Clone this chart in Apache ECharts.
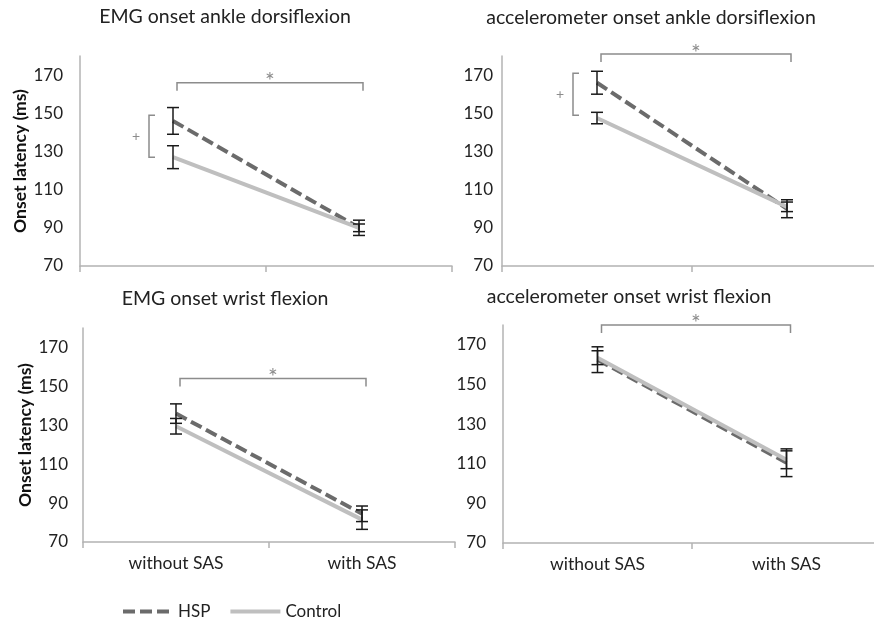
<!DOCTYPE html>
<html><head><meta charset="utf-8">
<script src="https://cdn.jsdelivr.net/npm/echarts@6/dist/echarts.min.js"></script>
<style>html,body{margin:0;padding:0;background:#fff}#c{width:874px;height:621px}</style>
</head><body><div id="c"></div>
<script>
// ---- data ----
const categories = ['without SAS', 'with SAS'];
const panelTitles = ['EMG onset ankle dorsiflexion', 'accelerometer onset ankle dorsiflexion', 'EMG onset wrist flexion', 'accelerometer onset wrist flexion'];
const hspMean  = [[146, 90], [166, 100], [136, 84.5], [162.5, 110.5]];
const hspErr   = [[7, 4], [6, 4.7], [5, 4], [6.5, 7]];
const ctrlMean = [[127, 90], [147.5, 101], [129.5, 81.5], [163.5, 112]];
const ctrlErr  = [[6, 2], [3, 2.5], [4, 5], [3.5, 4.5]];
const yTicks = [70, 90, 110, 130, 150, 170];
const sigBracketY = [166, 181, 154, 180];          // "*" bracket level (between conditions)
const groupBracket = [[127, 149], [149, 171], null, null]; // "+" bracket (between groups)
const yAxisName = 'Onset latency (ms)';
const seriesNames = ['HSP', 'Control'];

// ---- layout ----
const grids = [
  {left: 80, top: 56, width: 372, height: 210},
  {left: 502, top: 56, width: 380, height: 210},
  {left: 83, top: 328, width: 372, height: 214},
  {left: 503, top: 325, width: 378, height: 218}
];
const titlePos = [[225, 7], [651, 8], [225, 289], [629, 287]];
const yLabelMargin = [17, 9, 15, 17];
const axisColor = '#b3b3b3';
const textColor = '#222';
const FONT = 'Lato, "Open Sans", sans-serif';

function renderErr(params, api) {
  const lo = api.coord([api.value(0), api.value(1)]);
  const hi = api.coord([api.value(0), api.value(2)]);
  const w = 6;
  const st = {stroke: '#1a1a1a', lineWidth: 1.5};
  return {type: 'group', children: [
    {type: 'line', shape: {x1: lo[0], y1: lo[1], x2: hi[0], y2: hi[1]}, style: st},
    {type: 'line', shape: {x1: lo[0] - w, y1: lo[1], x2: lo[0] + w, y2: lo[1]}, style: st},
    {type: 'line', shape: {x1: hi[0] - w, y1: hi[1], x2: hi[0] + w, y2: hi[1]}, style: st}
  ]};
}
function renderSig(params, api) {
  const a = api.coord([api.value(0), api.value(2)]);
  const b = api.coord([api.value(1), api.value(2)]);
  const x1 = a[0] + 4, x2 = b[0] + 4, y = a[1], d = 8;
  return {type: 'group', children: [
    {type: 'polyline', shape: {points: [[x1, y + d], [x1, y], [x2, y], [x2, y + d]]}, style: {stroke: '#8c8c8c', lineWidth: 1.5, fill: null}},
    {type: 'text', x: (x1 + x2) / 2, y: y - 1, style: {text: '*', fill: '#8c8c8c', fontSize: 23, fontFamily: FONT, align: 'center', verticalAlign: 'middle'}}
  ]};
}
function renderGroup(params, api) {
  const lo = api.coord([api.value(0), api.value(1)]);
  const hi = api.coord([api.value(0), api.value(2)]);
  const x = lo[0] - 24, arm = 6;
  return {type: 'group', children: [
    {type: 'polyline', shape: {points: [[x + arm, hi[1]], [x, hi[1]], [x, lo[1]], [x + arm, lo[1]]]}, style: {stroke: '#8c8c8c', lineWidth: 1.5, fill: null}},
    {type: 'text', x: x - 13, y: (lo[1] + hi[1]) / 2, style: {text: '+', fill: '#8c8c8c', fontSize: 14, fontFamily: FONT, align: 'center', verticalAlign: 'middle'}}
  ]};
}

const option = {
  animation: false,
  backgroundColor: '#fff',
  textStyle: {fontFamily: FONT},
  title: panelTitles.map((t, i) => ({
    text: t, left: titlePos[i][0], top: titlePos[i][1], textAlign: 'center', padding: 0,
    textStyle: {fontSize: 19.5, fontWeight: 'normal', color: textColor, fontFamily: FONT}
  })),
  legend: {
    data: seriesNames, left: 116, top: 598, itemWidth: 50, itemHeight: 14, itemGap: 18,
    itemStyle: {opacity: 0},
    lineStyle: {width: 4},
    textStyle: {fontSize: 17, color: textColor, fontFamily: FONT}
  },
  grid: grids.map(g => Object.assign({outerBoundsMode: 'none', containLabel: false}, g)),
  xAxis: grids.map((g, i) => ({
    type: 'category', gridIndex: i, data: categories, boundaryGap: true,
    axisLine: {lineStyle: {color: axisColor, width: 1.5}},
    axisTick: {show: true, length: 6, lineStyle: {color: axisColor, width: 1.5}},
    axisLabel: {show: i >= 2, fontSize: 17.5, color: textColor, margin: 12, fontFamily: FONT},
    splitLine: {show: false}
  })),
  yAxis: grids.map((g, i) => ({
    type: 'value', gridIndex: i, min: 70, max: 180, interval: 20,
    name: (i % 2 === 0) ? yAxisName : '', nameLocation: 'middle', nameGap: i === 0 ? 46 : 49,
    nameTextStyle: {fontSize: 17.5, fontWeight: 'bold', color: '#111', fontFamily: FONT},
    axisLine: {show: true, lineStyle: {color: axisColor, width: 1.5}},
    axisTick: {show: false},
    axisLabel: {fontSize: 17, color: textColor, margin: yLabelMargin[i], fontFamily: FONT,
      formatter: v => yTicks.includes(v) ? String(v) : ''},
    splitLine: {show: false}
  })),
  series: []
};

for (let i = 0; i < 4; i++) {
  option.series.push({
    name: seriesNames[0], type: 'line', xAxisIndex: i, yAxisIndex: i, data: hspMean[i],
    symbol: 'none', z: 2,
    lineStyle: {color: '#6b6b6b', width: 4, type: [12, 5]}, itemStyle: {color: '#6b6b6b'}
  });
  option.series.push({
    name: seriesNames[1], type: 'line', xAxisIndex: i, yAxisIndex: i, data: ctrlMean[i],
    symbol: 'none', z: 3,
    lineStyle: {color: '#bfbfbf', width: 4, type: 'solid'}, itemStyle: {color: '#bfbfbf'}
  });
  const errData = [];
  for (let k = 0; k < 2; k++) {
    errData.push([k, hspMean[i][k] - hspErr[i][k], hspMean[i][k] + hspErr[i][k]]);
    errData.push([k, ctrlMean[i][k] - ctrlErr[i][k], ctrlMean[i][k] + ctrlErr[i][k]]);
  }
  option.series.push({
    type: 'custom', name: 'err' + i, xAxisIndex: i, yAxisIndex: i, data: errData, z: 5,
    encode: {x: 0, y: [1, 2]}, renderItem: renderErr, silent: true, clip: false
  });
  option.series.push({
    type: 'custom', name: 'sig' + i, xAxisIndex: i, yAxisIndex: i, data: [[0, 1, sigBracketY[i]]], z: 5,
    encode: {x: [0, 1], y: 2}, renderItem: renderSig, silent: true, clip: false
  });
  if (groupBracket[i]) {
    option.series.push({
      type: 'custom', name: 'grp' + i, xAxisIndex: i, yAxisIndex: i, data: [[0, groupBracket[i][0], groupBracket[i][1]]], z: 5,
      encode: {x: 0, y: [1, 2]}, renderItem: renderGroup, silent: true, clip: false
    });
  }
}

const chart = echarts.init(document.getElementById('c'), null, {renderer: 'canvas'});
chart.setOption(option);
</script>
</body></html>
